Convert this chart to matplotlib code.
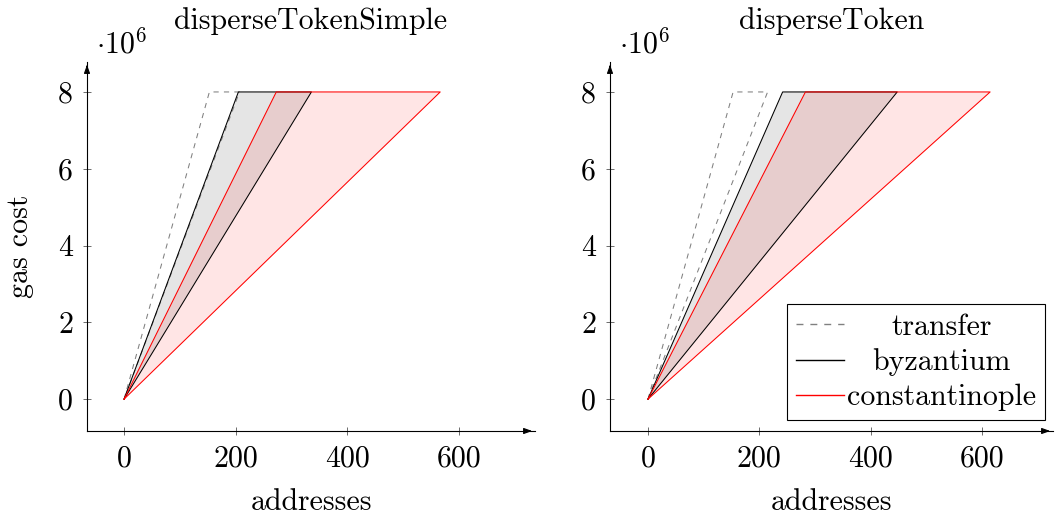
import numpy as np
import matplotlib
matplotlib.use("Agg")
import matplotlib.pyplot as plt

plt.rcParams['font.family'] = ['cmr10', 'DejaVu Serif']
plt.rcParams['mathtext.fontset'] = 'cm'
plt.rcParams['axes.formatter.use_mathtext'] = True

# dane: liczba adresow przy ktorej koszt gazu osiaga limit bloku (8e6)
gas_limit = 8e6
titles = ['disperseTokenSimple', 'disperseToken']
series = ['transfer', 'byzantium', 'constantinople']
# [min, max] adresow dla kazdej serii
simple_addr = [[153, 207], [205, 336], [273, 567]]
token_addr = [[153, 215], [242, 448], [283, 615]]
xticks = [0, 200, 400, 600]
yticks = [0, 2, 4, 6, 8]
xlims = [(-66.5, 737), (-68.3, 728)]
ylim = (-0.83, 8.78)

styles = {
    'transfer': dict(color='#808080', ls=(0, (5, 5)), fill=None),
    'byzantium': dict(color='black', ls='-', fill='black'),
    'constantinople': dict(color='red', ls='-', fill='red'),
}

fig = plt.figure(figsize=(10.55, 5.2), dpi=100)
positions = [[87 / 1055, 1 - 431 / 520, 448 / 1055, 369 / 520],
             [610 / 1055, 1 - 431 / 520, 443 / 1055, 369 / 520]]
fs = 21.5

for k, data in enumerate([simple_addr, token_addr]):
    ax = fig.add_axes(positions[k])
    handles = []
    for name, (lo, hi) in zip(series, data):
        st = styles[name]
        xs = [0, lo, hi, 0]
        ys = [0, gas_limit / 1e6, gas_limit / 1e6, 0]
        if st['fill'] is not None:
            ax.fill(xs, ys, color=st['fill'], alpha=0.1, lw=0)
        ln, = ax.plot(xs, ys, color=st['color'], ls=st['ls'], lw=0.75, label=name)
        handles.append(ln)
    ax.set_xlim(*xlims[k])
    ax.set_ylim(*ylim)
    ax.spines['top'].set_visible(False)
    ax.spines['right'].set_visible(False)
    ax.spines['left'].set_linewidth(0.8)
    ax.spines['bottom'].set_linewidth(0.8)
    ax.annotate('', xy=(1, 0), xytext=(0.98, 0), xycoords='axes fraction',
                arrowprops=dict(arrowstyle='-|>,head_length=0.5,head_width=0.18', color='black', lw=0.8))
    ax.annotate('', xy=(0, 1), xytext=(0, 0.98), xycoords='axes fraction',
                arrowprops=dict(arrowstyle='-|>,head_length=0.5,head_width=0.18', color='black', lw=0.8))
    ax.set_xticks(xticks)
    ax.set_xticklabels([str(v) for v in xticks], fontsize=fs)
    ax.set_yticks(yticks)
    ax.set_yticklabels([str(v) for v in yticks], fontsize=fs)
    ax.tick_params(direction='inout', length=6, width=0.6, color='#555555', pad=7)
    ax.set_title(titles[k], fontsize=fs, pad=24)
    ax.text(0.02, 1.008, r'$\cdot 10^{6}$', transform=ax.transAxes, fontsize=fs, ha='left', va='bottom')
    ax.set_xlabel('addresses', fontsize=fs, labelpad=12)
    if k == 0:
        ax.set_ylabel('gas cost', fontsize=fs, labelpad=17)
    else:
        leg = ax.legend(handles, series, loc='lower right', bbox_to_anchor=(0.982, 0.03), borderaxespad=0,
                        fancybox=False, edgecolor='black', framealpha=1, fontsize=fs,
                        handlelength=1.6, handletextpad=0.1, borderpad=0.3, labelspacing=0.25)
        leg.get_frame().set_linewidth(0.8)
        for l in leg.get_lines():
            l.set_linewidth(1.0)

# wysrodkowanie tekstu w legendzie (jak w pgfplots)
fig.canvas.draw()
texts = leg.get_texts()
widths = [t.get_window_extent().width for t in texts]
for t, w in zip(texts, widths):
    t.set_x((max(widths) - w) / 2)

fig.savefig('out.png', dpi=100)
